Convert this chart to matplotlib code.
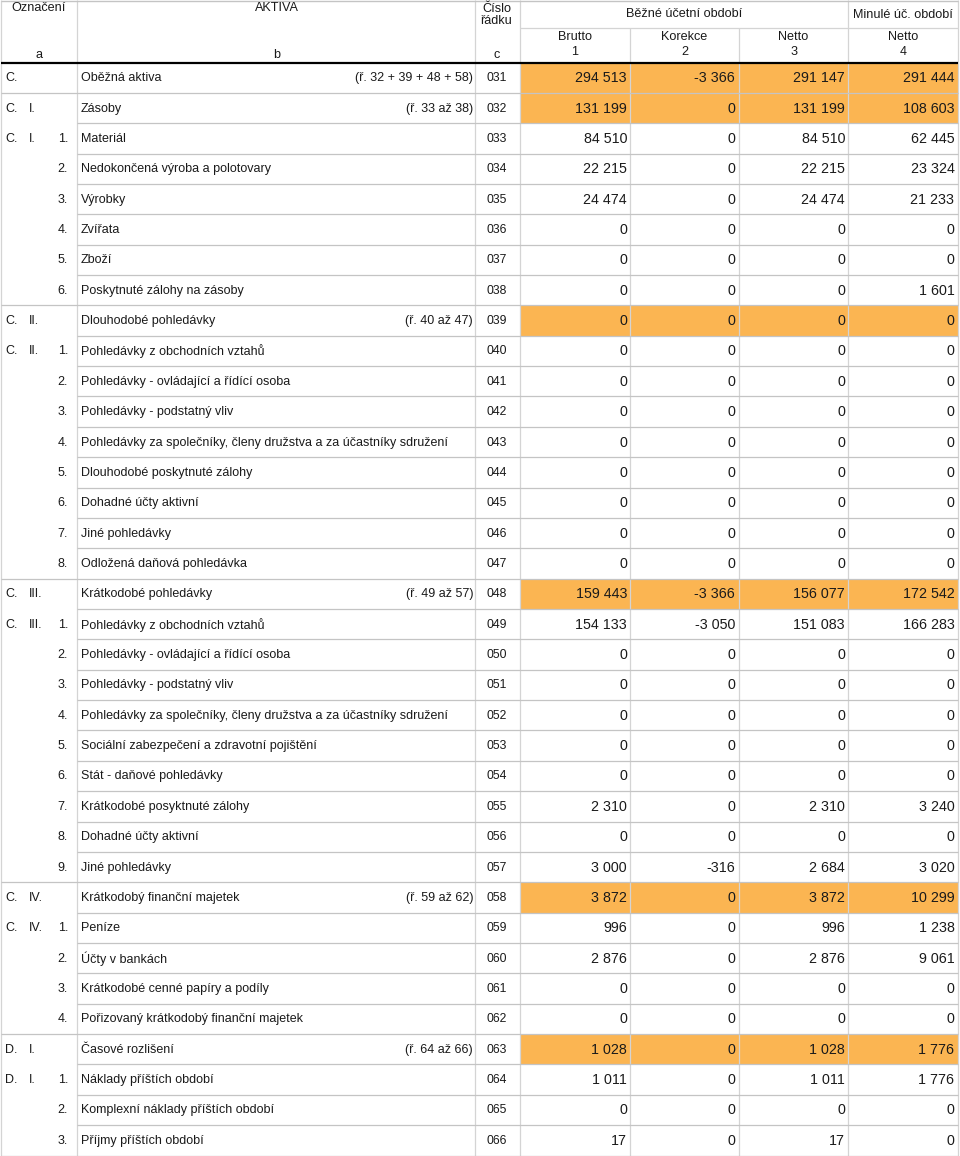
import matplotlib
matplotlib.use("Agg")
import matplotlib.pyplot as plt
from matplotlib.patches import Rectangle

plt.rcParams['font.family'] = ['Liberation Sans', 'DejaVu Sans']

# ---------------- data ----------------
sec_letter = ["C.", "C.", "C.", "", "", "", "", "", "C.", "C.", "", "", "", "", "", "", "",
              "C.", "C.", "", "", "", "", "", "", "", "", "C.", "C.", "", "", "", "D.", "D.", "", ""]
sec_roman = ["", "I.", "I.", "", "", "", "", "", "II.", "II.", "", "", "", "", "", "", "",
             "III.", "III.", "", "", "", "", "", "", "", "", "IV.", "IV.", "", "", "", "I.", "I.", "", ""]
sec_num = ["", "", "1.", "2.", "3.", "4.", "5.", "6.", "", "1.", "2.", "3.", "4.", "5.", "6.", "7.", "8.",
           "", "1.", "2.", "3.", "4.", "5.", "6.", "7.", "8.", "9.", "", "1.", "2.", "3.", "4.", "", "1.", "2.", "3."]
labels = [
    "Oběžná aktiva", "Zásoby", "Materiál", "Nedokončená výroba a polotovary", "Výrobky",
    "Zvířata", "Zboží", "Poskytnuté zálohy na zásoby", "Dlouhodobé pohledávky",
    "Pohledávky z obchodních vztahů", "Pohledávky - ovládající a řídící osoba",
    "Pohledávky - podstatný vliv",
    "Pohledávky za společníky, členy družstva a za účastníky sdružení",
    "Dlouhodobé poskytnuté zálohy", "Dohadné účty aktivní", "Jiné pohledávky",
    "Odložená daňová pohledávka", "Krátkodobé pohledávky", "Pohledávky z obchodních vztahů",
    "Pohledávky - ovládající a řídící osoba", "Pohledávky - podstatný vliv",
    "Pohledávky za společníky, členy družstva a za účastníky sdružení",
    "Sociální zabezpečení a zdravotní pojištění", "Stát - daňové pohledávky",
    "Krátkodobé posyktnuté zálohy", "Dohadné účty aktivní", "Jiné pohledávky",
    "Krátkodobý finanční majetek", "Peníze", "Účty v bankách",
    "Krátkodobé cenné papíry a podíly", "Pořizovaný krátkodobý finanční majetek",
    "Časové rozlišení", "Náklady příštích období", "Komplexní náklady příštích období",
    "Příjmy příštích období",
]
formulas = {0: "(ř. 32 + 39 + 48 + 58)", 1: "(ř. 33 až 38)", 8: "(ř. 40 až 47)",
            17: "(ř. 49 až 57)", 27: "(ř. 59 až 62)", 32: "(ř. 64 až 66)"}
row_codes = ["031", "032", "033", "034", "035", "036", "037", "038", "039", "040", "041", "042",
             "043", "044", "045", "046", "047", "048", "049", "050", "051", "052", "053", "054",
             "055", "056", "057", "058", "059", "060", "061", "062", "063", "064", "065", "066"]
brutto = [294513, 131199, 84510, 22215, 24474, 0, 0, 0, 0, 0, 0, 0, 0, 0, 0, 0, 0,
          159443, 154133, 0, 0, 0, 0, 0, 2310, 0, 3000, 3872, 996, 2876, 0, 0, 1028, 1011, 0, 17]
korekce = [-3366, 0, 0, 0, 0, 0, 0, 0, 0, 0, 0, 0, 0, 0, 0, 0, 0,
           -3366, -3050, 0, 0, 0, 0, 0, 0, 0, -316, 0, 0, 0, 0, 0, 0, 0, 0, 0]
netto = [291147, 131199, 84510, 22215, 24474, 0, 0, 0, 0, 0, 0, 0, 0, 0, 0, 0, 0,
         156077, 151083, 0, 0, 0, 0, 0, 2310, 0, 2684, 3872, 996, 2876, 0, 0, 1028, 1011, 0, 17]
netto_prev = [291444, 108603, 62445, 23324, 21233, 0, 0, 1601, 0, 0, 0, 0, 0, 0, 0, 0, 0,
              172542, 166283, 0, 0, 0, 0, 0, 3240, 0, 3020, 10299, 1238, 9061, 0, 0, 1776, 1776, 0, 0]
highlight_rows = [0, 1, 8, 17, 27, 32]


def fmt(v):
    return f"{v:,}".replace(",", " ")


# ---------------- layout ----------------
W, H = 960, 1156
fig = plt.figure(figsize=(W / 100, H / 100), dpi=100)
ax = fig.add_axes([0, 0, 1, 1])
ax.set_xlim(0, W)
ax.set_ylim(H, 0)
ax.axis("off")

xa, xb, xc, x1, x2, x3, x4, xr = 0.5, 77, 475, 520, 630, 739, 848, 957.5
top_body = 62.5
n = len(labels)
rh = (1155.5 - top_body) / n
orange = "#fbb552"
vcol = "#d4d4d4"
hcol = "#c4c4c4"
tcol = "#1a1a1a"
num_fs = 10.3
lab_fs = 9.0
code_fs = 8.8
hdr_fs = 9.1

# highlight fills
for r in highlight_rows:
    y0 = top_body + r * rh
    ax.add_patch(Rectangle((x1, y0), xr - x1, rh, facecolor=orange, edgecolor="none", zorder=0))

# vertical lines
for x in [xa, xb, xc, x1, x4, xr]:
    ax.vlines(x, 0, H - 0.5, color=vcol, lw=0.9, zorder=1)
ax.vlines([x2, x3], 28, H - 0.5, color=vcol, lw=0.9, zorder=1)

# header lines
ax.hlines(0.5, xa, xr, color=hcol, lw=1.0, zorder=1)
ax.hlines(28, x1, xr, color=vcol, lw=0.9, zorder=1)
ax.hlines(top_body, xa, xr, color="black", lw=1.6, zorder=3)

# row lines
sections = set(highlight_rows)
for i in range(1, n + 1):
    y = top_body + i * rh
    start = xa if (i in sections or i == n) else xb
    ax.hlines(y, start, xr, color=hcol, lw=0.9, zorder=1)

# header text
ax.text(39, 8, "Označení", ha="center", va="center", fontsize=hdr_fs, color=tcol)
ax.text(277, 8, "AKTIVA", ha="center", va="center", fontsize=hdr_fs, color=tcol)
ax.text(497, 15, "Číslo\nřádku", ha="center", va="center", fontsize=hdr_fs, color=tcol, linespacing=1.0)
ax.text(684, 14, "Běžné účetní období", ha="center", va="center", fontsize=hdr_fs, color=tcol)
ax.text(903, 15, "Minulé úč. období", ha="center", va="center", fontsize=hdr_fs, color=tcol)
ax.text(39, 55, "a", ha="center", va="center", fontsize=hdr_fs, color=tcol)
ax.text(277, 55, "b", ha="center", va="center", fontsize=hdr_fs, color=tcol)
ax.text(497, 55, "c", ha="center", va="center", fontsize=hdr_fs, color=tcol)
for xc0, xc1, name, k in [(x1, x2, "Brutto", "1"), (x2, x3, "Korekce", "2"),
                          (x3, x4, "Netto", "3"), (x4, xr, "Netto", "4")]:
    ax.text((xc0 + xc1) / 2, 37, name, ha="center", va="center", fontsize=hdr_fs, color=tcol)
    ax.text((xc0 + xc1) / 2, 52, k, ha="center", va="center", fontsize=hdr_fs, color=tcol)

# body text
for i in range(n):
    yc = top_body + (i + 0.5) * rh + 0.5
    if sec_letter[i]:
        ax.text(5, yc, sec_letter[i], ha="left", va="center", fontsize=lab_fs, color=tcol)
    if sec_roman[i]:
        ax.text(29, yc, sec_roman[i], ha="left", va="center", fontsize=lab_fs, color=tcol)
    if sec_num[i]:
        ax.text(68, yc, sec_num[i], ha="right", va="center", fontsize=lab_fs, color=tcol)
    ax.text(81, yc, labels[i], ha="left", va="center", fontsize=lab_fs, color=tcol)
    if i in formulas:
        ax.text(473, yc, formulas[i], ha="right", va="center", fontsize=lab_fs, color=tcol)
    ax.text(497, yc, row_codes[i], ha="center", va="center", fontsize=code_fs, color=tcol)
    for xe, vals in [(x2 - 3, brutto), (x3 - 4, korekce), (x4 - 3, netto), (xr - 3, netto_prev)]:
        ax.text(xe, yc, fmt(vals[i]), ha="right", va="center", fontsize=num_fs, color=tcol)

fig.savefig("out.png", dpi=100)
